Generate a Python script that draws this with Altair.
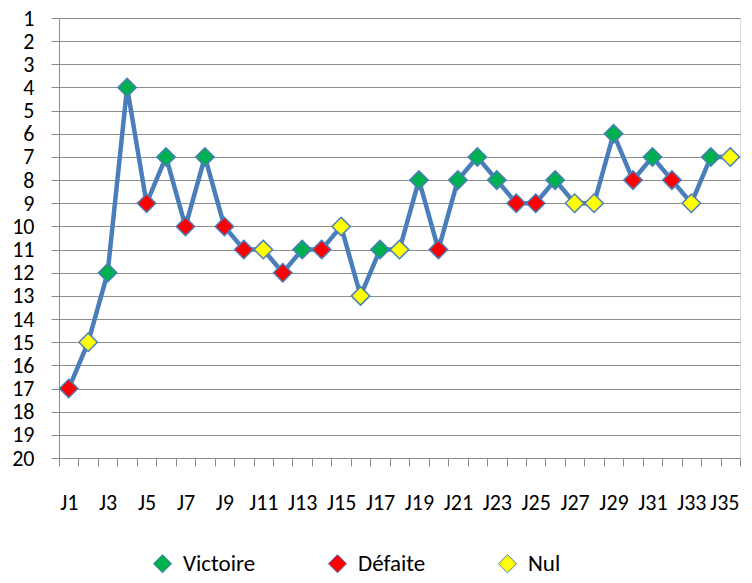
import altair as alt
import pandas as pd

# Data
journees = list(range(1, 36))
classement = [17, 15, 12, 4, 9, 7, 10, 7, 10, 11, 11, 12, 11, 11, 10, 13, 11, 11,
              8, 11, 8, 7, 8, 9, 9, 8, 9, 9, 6, 8, 7, 8, 9, 7, 7]
resultats = ["Défaite", "Nul", "Victoire", "Victoire", "Défaite", "Victoire", "Défaite",
             "Victoire", "Défaite", "Défaite", "Nul", "Défaite", "Victoire", "Défaite",
             "Nul", "Nul", "Victoire", "Nul", "Victoire", "Défaite", "Victoire",
             "Victoire", "Victoire", "Défaite", "Défaite", "Victoire", "Nul", "Nul",
             "Victoire", "Défaite", "Victoire", "Défaite", "Nul", "Victoire", "Nul"]
categories = ["Victoire", "Défaite", "Nul"]
couleurs = ["#00b050", "#ff0000", "#ffff00"]
y_ticks = list(range(1, 21))
x_tick_positions = [i + 0.5 for i in range(0, 36)]
x_label_positions = list(range(1, 36, 2))

df = pd.DataFrame({"j": journees, "rang": classement, "res": resultats})

FONT = "Carlito, Lato, sans-serif"
BLUE = "#4a7ebb"
GRID = "#8c8c8c"

x_enc = alt.X(
    "j:Q",
    scale=alt.Scale(domain=[0.5, 35.5], nice=False, zero=False),
    axis=alt.Axis(
        title=None,
        values=sorted(x_tick_positions + x_label_positions),
        labelExpr="datum.value % 1 === 0 ? 'J' + datum.value : ''",
        tickOpacity={"condition": {"test": "datum.value % 1 === 0", "value": 0}, "value": 1},
        labelOffset={"condition": {"test": "datum.value === 35", "value": -6}, "value": 0},
        tickSize=8,
        tickColor=GRID,
        domainColor=GRID,
        grid=False,
        labelOverlap=False,
        labelFlush=False,
        labelBaseline="middle",
        labelPadding=36,
        labelFont=FONT,
        labelFontSize=22,
        labelColor="#000000",
    ),
)
y_enc = alt.Y(
    "rang:Q",
    scale=alt.Scale(domain=[1, 20], reverse=True, nice=False, zero=False),
    axis=alt.Axis(
        title=None,
        values=y_ticks,
        grid=True,
        gridColor=GRID,
        gridOpacity=1,
        tickSize=8,
        tickColor=GRID,
        domainColor=GRID,
        labelPadding=17,
        labelFont=FONT,
        labelFontSize=22,
        labelColor="#000000",
        labelOverlap=False,
        labelFlush=False,
    ),
)

line = alt.Chart(df).mark_line(color=BLUE, strokeWidth=4.5).encode(x=x_enc, y=y_enc)

points = alt.Chart(df).mark_point(
    shape="diamond", filled=True, size=340, stroke=BLUE, strokeWidth=1.5, opacity=1
).encode(
    x=x_enc,
    y=y_enc,
    fill=alt.Fill(
        "res:N",
        scale=alt.Scale(domain=categories, range=couleurs),
        legend=alt.Legend(
            title=None,
            orient="none",
            legendX=92,
            legendY=534,
            direction="horizontal",
            columns=3,
            columnPadding=70,
            symbolType="diamond",
            symbolSize=330,
            symbolStrokeColor=BLUE,
            symbolStrokeWidth=1,
            labelFont=FONT,
            labelFontSize=23,
            labelColor="#000000",
            labelOffset=9,
        ),
    ),
)

chart = (
    alt.layer(line, points)
    .properties(
        width=681,
        height=440,
        autosize=alt.AutoSizeParams(type="none"),
        padding={"left": 51, "top": 10, "right": 4, "bottom": 117},
    )
    .configure_view(stroke=None)
    .configure(background="#ffffff")
)

chart.save("out.html", embed_options={"renderer": "svg", "actions": False})
